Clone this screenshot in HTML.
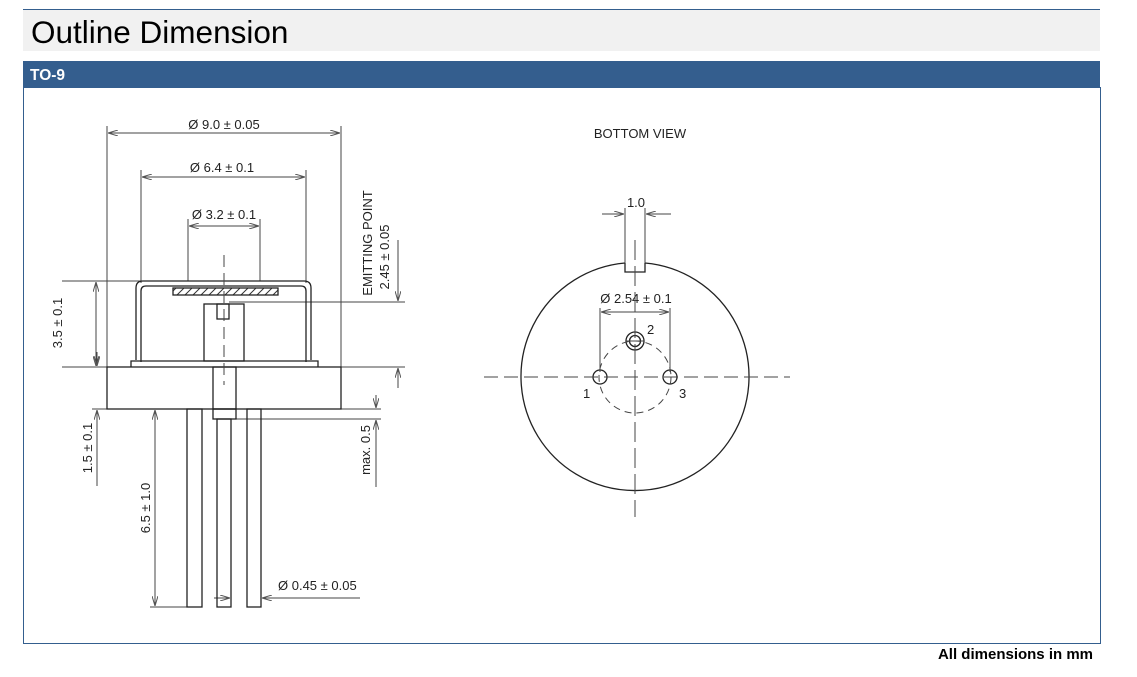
<!DOCTYPE html>
<html><head><meta charset="utf-8"><style>
body{margin:0;width:1137px;height:672px;background:#fff;overflow:hidden;font-family:"Liberation Sans",sans-serif}
</style></head><body>
<svg width="1137" height="672" viewBox="0 0 1137 672" xmlns="http://www.w3.org/2000/svg" font-family="Liberation Sans, sans-serif">
<defs>
<marker id="a" viewBox="0 0 10 6" refX="10" refY="3" markerWidth="10" markerHeight="6" orient="auto-start-reverse" markerUnits="userSpaceOnUse"><path d="M0,0 L10,3 L0,6" fill="none" stroke="#555" stroke-width="1"/></marker>
<pattern id="h" width="8" height="8" patternUnits="userSpaceOnUse"><path d="M0,8 L8,0" stroke="#333" stroke-width="1"/></pattern>
</defs>
<line x1="23" y1="9.5" x2="1100" y2="9.5" stroke="#345e8e"/>
<rect x="23" y="10" width="1077" height="41" fill="#f1f1f1"/>
<text x="31" y="43" font-size="31.5" fill="#000">Outline Dimension</text>
<rect x="23" y="61" width="1077" height="27" fill="#345e8e"/>
<text x="30" y="80" font-size="15.5" font-weight="bold" fill="#fff">TO-9</text>
<rect x="23.5" y="87.5" width="1077" height="556" fill="none" stroke="#345e8e"/>
<text x="1093" y="659" font-size="15" font-weight="bold" text-anchor="end">All dimensions in mm</text>

<g stroke="#444" stroke-width="1" fill="none">
<line x1="107" y1="126" x2="107" y2="367"/><line x1="341" y1="126" x2="341" y2="367"/>
<line x1="141" y1="170" x2="141" y2="283"/><line x1="306" y1="170" x2="306" y2="283"/>
<line x1="188" y1="219" x2="188" y2="281"/><line x1="260" y1="219" x2="260" y2="281"/>
<line x1="108" y1="133" x2="340" y2="133" marker-start="url(#a)" marker-end="url(#a)"/>
<line x1="142" y1="177" x2="305" y2="177" marker-start="url(#a)" marker-end="url(#a)"/>
<line x1="189" y1="226" x2="259" y2="226" marker-start="url(#a)" marker-end="url(#a)"/>
<line x1="62" y1="281" x2="141" y2="281"/><line x1="62" y1="367" x2="107" y2="367"/>
<line x1="96" y1="282" x2="96" y2="366" marker-start="url(#a)" marker-end="url(#a)"/>
<line x1="97" y1="352" x2="97" y2="366" marker-end="url(#a)"/>
<line x1="97" y1="486" x2="97" y2="410" marker-end="url(#a)"/>
<line x1="92" y1="409" x2="107" y2="409"/>
<line x1="155" y1="410" x2="155" y2="606" marker-start="url(#a)" marker-end="url(#a)"/>
<line x1="150" y1="607" x2="187" y2="607"/>
<line x1="341" y1="409" x2="381" y2="409"/><line x1="236" y1="419" x2="381" y2="419"/>
<line x1="376" y1="395" x2="376" y2="408" marker-end="url(#a)"/>
<line x1="376" y1="487" x2="376" y2="420" marker-end="url(#a)"/>
<line x1="229" y1="302" x2="405" y2="302"/><line x1="341" y1="367" x2="405" y2="367"/>
<line x1="398" y1="240" x2="398" y2="301" marker-end="url(#a)"/>
<line x1="398" y1="388" x2="398" y2="368" marker-end="url(#a)"/>
<line x1="214" y1="598" x2="230" y2="598" marker-end="url(#a)"/>
<line x1="360" y1="598" x2="262" y2="598" marker-end="url(#a)"/>
</g>
<g stroke="#222" stroke-width="1.3" fill="none">
<path d="M136,360 L136,288 Q136,281 143,281 L304,281 Q311,281 311,288 L311,360"/>
<path d="M141,362 L141,291 Q141,286 146,286 L301,286 Q306,286 306,291 L306,362"/>
<path d="M131,367 L131,361 L318,361 L318,367"/>
<rect x="173" y="288" width="105" height="7" fill="url(#h)"/>
<rect x="204" y="304" width="40" height="57"/>
<rect x="217" y="304" width="12" height="15"/>
<rect x="107" y="367" width="234" height="42" fill="#fff"/>
<rect x="213" y="367" width="23" height="42"/>
<rect x="213" y="409" width="23" height="10"/>
<rect x="187" y="409" width="15" height="198"/>
<rect x="217" y="419" width="14" height="188"/>
<rect x="247" y="409" width="14" height="198"/>
</g>
<line x1="224" y1="255" x2="224" y2="385" stroke="#444" stroke-dasharray="12,6"/>
<g font-size="13" fill="#222">
<text x="224" y="129" text-anchor="middle">Ø 9.0 ± 0.05</text>
<text x="222" y="172" text-anchor="middle">Ø 6.4 ± 0.1</text>
<text x="224" y="219" text-anchor="middle">Ø 3.2 ± 0.1</text>
<text x="278" y="590">Ø 0.45 ± 0.05</text>
<text transform="translate(62,323) rotate(-90)" text-anchor="middle">3.5 ± 0.1</text>
<text transform="translate(92,448) rotate(-90)" text-anchor="middle">1.5 ± 0.1</text>
<text transform="translate(150,508) rotate(-90)" text-anchor="middle">6.5 ± 1.0</text>
<text transform="translate(370,450) rotate(-90)" text-anchor="middle">max. 0.5</text>
<text transform="translate(372,243) rotate(-90)" text-anchor="middle">EMITTING POINT</text>
<text transform="translate(389,257) rotate(-90)" text-anchor="middle">2.45 ± 0.05</text>
<text x="640" y="138" text-anchor="middle">BOTTOM VIEW</text>
<text x="636" y="207" text-anchor="middle">1.0</text>
<text x="636" y="303" text-anchor="middle">Ø 2.54 ± 0.1</text>
<text x="647" y="334">2</text>
<text x="583" y="398">1</text>
<text x="679" y="398">3</text>
</g>
<g stroke="#222" stroke-width="1.3" fill="none">
<path d="M625,263 A114,114 0 1 0 645,263"/>
<path d="M625,263 L625,272 L645,272 L645,263"/>
<circle cx="600" cy="377" r="7"/><circle cx="670" cy="377" r="7"/>
<circle cx="635" cy="341" r="9"/><circle cx="635" cy="341" r="5.5"/>
</g>
<g stroke="#444" stroke-width="1" fill="none">
<line x1="625" y1="208" x2="625" y2="263"/><line x1="645" y1="208" x2="645" y2="263"/>
<line x1="602" y1="214" x2="624" y2="214" marker-end="url(#a)"/>
<line x1="671" y1="214" x2="646" y2="214" marker-end="url(#a)"/>
<line x1="600" y1="308" x2="600" y2="372"/><line x1="670" y1="308" x2="670" y2="372"/>
<line x1="601" y1="312" x2="669" y2="312" marker-start="url(#a)" marker-end="url(#a)"/>
<circle cx="635" cy="377" r="36" stroke-dasharray="7,5"/>
<line x1="484" y1="377" x2="790" y2="377" stroke-dasharray="14,6"/>
<line x1="635" y1="240" x2="635" y2="517" stroke-dasharray="20,6"/>
<line x1="626" y1="341" x2="644" y2="341"/>
</g>
</svg>
</body></html>
